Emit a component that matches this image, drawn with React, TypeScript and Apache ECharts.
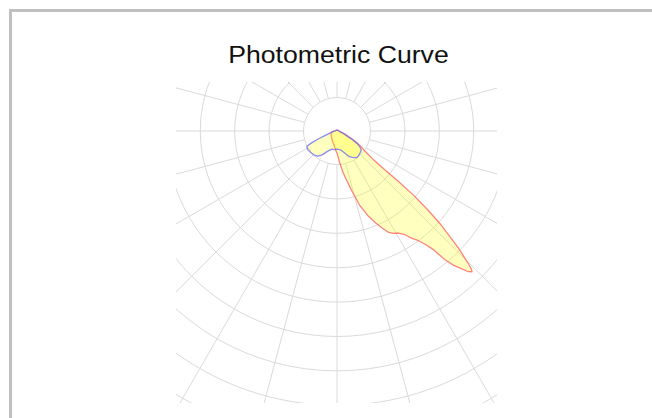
import React, { useEffect, useRef } from "react";
import * as echarts from "echarts";

// Title
const TITLE = "Photometric Curve";

// C0-C180 plane (red): gamma angle in degrees (0 = nadir, + to the right), intensity (cd)
const redAngles = [180, 150, 120, 90, 75, 70, 65, 60, 57, 54, 52, 51, 50.5, 50, 49, 48, 47, 46, 45, 44.3, 43.8, 43, 42, 41, 40, 39, 38, 36.5, 35, 33, 31, 29, 27, 25, 23, 20, 17, 14, 11, 8, 4, 0, -5, -10, -20, -30, -45, -60, -70, -80, -90, -120, -150, -180];
const redValues = [3, 3, 4, 6, 12, 20, 35, 64, 85, 102, 131, 175, 233, 292, 352, 405, 447, 493, 533, 560, 569, 560, 539, 519, 490, 443, 420, 397, 382, 359, 347, 341, 332, 312, 292, 262, 227, 181, 146, 120, 87, 64, 54, 44, 35, 29, 23, 20, 19, 15, 9, 4, 3, 3];

// C90-C270 plane (blue)
const blueAngles = [180, 120, 90, 75, 68, 63, 61, 58, 55, 52, 46, 40, 36, 30, 25, 20, 13, 5, 0, -5, -10, -16, -22, -27, -32, -37, -42, -50, -58, -63, -65, -67, -69, -73, -80, -90, -120, -180];
const blueValues = [3, 3, 6, 12, 23, 32, 52, 70, 82, 90, 93, 96, 96, 89, 82, 70, 58, 54, 53, 54, 55, 55, 61, 69, 82, 92, 96, 99, 101, 99, 82, 58, 38, 23, 12, 6, 3, 3];

// Grid ticks
const RING_COUNT = 10;
const ANGLE_STEP = 15;
const DATA_MAX = 1000;

const toPairs = (angles: number[], values: number[]) =>
  angles.map((a, i) => [values[i], a < 0 ? 360 + a : a]);

export default function App() {
  const titleRef = useRef<HTMLDivElement>(null);
  const chartRef = useRef<HTMLDivElement>(null);

  useEffect(() => {
    const tChart = echarts.init(titleRef.current!, null, { renderer: "svg" });
    tChart.setOption({
      animation: false,
      graphic: [
        {
          type: "text",
          x: 338.5,
          y: 42,
          scaleX: 1.11,
          style: {
            text: TITLE,
            fontSize: 24,
            fontFamily: "Liberation Sans, Arial, sans-serif",
            fill: "#111",
            textAlign: "center",
            textVerticalAlign: "top",
          },
        },
      ],
    });

    const chart = echarts.init(chartRef.current!, null, { renderer: "svg" });
    const gridColor = "#dadada";
    chart.setOption({
      animation: false,
      polar: [
        { center: [161, 49], radius: [33.5, 377.5] },
        { center: [161, 49], radius: [0, 343] },
      ],
      angleAxis: [
        {
          polarIndex: 0,
          type: "value",
          min: 0,
          max: 360,
          interval: ANGLE_STEP,
          startAngle: -90,
          clockwise: false,
          axisLine: { show: false },
          axisTick: { show: false },
          axisLabel: { show: false },
          splitLine: { show: true, lineStyle: { color: gridColor, width: 1 } },
        },
        {
          polarIndex: 1,
          type: "value",
          min: 0,
          max: 360,
          startAngle: -90,
          clockwise: false,
          axisLine: { show: false },
          axisTick: { show: false },
          axisLabel: { show: false },
          splitLine: { show: false },
        },
      ],
      radiusAxis: [
        {
          polarIndex: 0,
          type: "value",
          min: 0,
          max: RING_COUNT,
          interval: 1,
          axisLine: { show: false },
          axisTick: { show: false },
          axisLabel: { show: false },
          splitLine: { show: true, lineStyle: { color: gridColor, width: 1 } },
        },
        {
          polarIndex: 1,
          type: "value",
          min: 0,
          max: DATA_MAX,
          axisLine: { show: false },
          axisTick: { show: false },
          axisLabel: { show: false },
          splitLine: { show: false },
        },
      ],
      series: [
        {
          type: "line",
          coordinateSystem: "polar",
          polarIndex: 1,
          data: toPairs(redAngles, redValues),
          showSymbol: false,
          symbol: "none",
          lineStyle: { color: "rgba(255,90,90,0.75)", width: 1.3 },
          areaStyle: { color: "rgba(255,255,0,0.36)" },
          z: 3,
        },
        {
          type: "line",
          coordinateSystem: "polar",
          polarIndex: 1,
          data: toPairs(blueAngles, blueValues),
          showSymbol: false,
          symbol: "none",
          lineStyle: { color: "rgba(90,90,255,0.7)", width: 1.3 },
          areaStyle: { color: "rgba(255,255,0,0.36)" },
          z: 4,
        },
      ],
    });

    return () => {
      tChart.dispose();
      chart.dispose();
    };
  }, []);

  return (
    <div
      style={{
        position: "fixed",
        left: 0,
        top: 0,
        width: 652,
        height: 418,
        overflow: "hidden",
        background: "#fff",
      }}
    >
      <div
        style={{
          position: "absolute",
          left: 9,
          top: 9,
          width: 800,
          height: 600,
          border: "3px solid #c0c0c0",
        }}
      />
      <div
        ref={titleRef}
        style={{ position: "absolute", left: 0, top: 0, width: 676, height: 80 }}
      />
      <div
        ref={chartRef}
        style={{ position: "absolute", left: 176, top: 82, width: 321, height: 321 }}
      />
    </div>
  );
}
